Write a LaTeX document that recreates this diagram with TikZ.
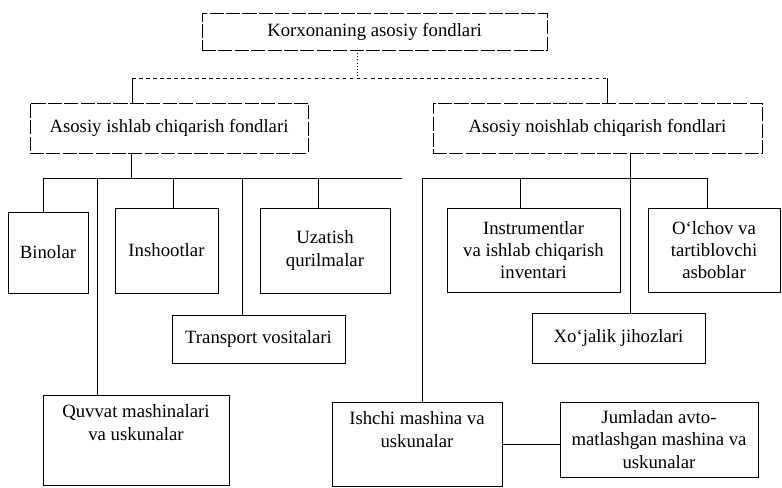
\documentclass[tikz,border=0pt]{standalone}
\usepackage{fontspec}
\setmainfont{Liberation Serif}
\usetikzlibrary{positioning}

\tikzset{
	box/.style={draw, rectangle, line width=0.6pt, align=center, inner sep=2pt, font=\fontsize{16}{19}\selectfont},
	mainbox/.style={box, dash pattern=on 12pt off 2pt},
	boxtext/.style={align=center, inner sep=0pt, font=\fontsize{16}{19}\selectfont},
	link/.style={line width=0.6pt},
}

\begin{document}
\begin{tikzpicture}[x=0.03cm, y=-0.03cm]
	\useasboundingbox (0,0) rectangle (782,488);
	
	% Korxona
	\node (korxona) [mainbox, minimum width=10.35cm, minimum height=1.11cm] at (374.5,31.5) {Korxonaning asosiy fondlari};
	
	% Asosiy fondlar
	\node (ishlab) [mainbox, minimum width=8.34cm, minimum height=1.5cm] at (169,128) {Asosiy ishlab chiqarish fondlari};
	\node (noishlab) [mainbox, minimum width=9.87cm, minimum height=1.5cm] at (597.5,128) {Asosiy noishlab chiqarish fondlari};
	
	\coordinate (t0) at (357,78);
	\coordinate (tl) at (132,78);
	\coordinate (tr) at (607,78);
	\draw[link, dotted] (korxona.south -| t0) -- (t0);
	\draw[link, dashed] (tl) -- (tr);
	\draw[link] (tl) -- (ishlab.north -| tl);
	\draw[link] (tr) -- (noishlab.north -| tr);
	
	% Ishlab chiqarish fondlari
	\node (binolar) [box, minimum width=2.4cm, minimum height=2.43cm] at (48,252.5) {Binolar};
	\node (inshoot) [box, minimum width=3.09cm, minimum height=2.55cm] at (166.5,250.5) {Inshootlar};
	\node (uzatish) [box, minimum width=3.9cm, minimum height=2.55cm] at (325,250.5) {Uzatish\\qurilmalar};
	\node (transport) [box, minimum width=5.19cm, minimum height=1.44cm] at (258.5,339) {Transport vositalari};
	\node (quvvat) [box, minimum width=5.58cm, minimum height=2.7cm] at (136,440) {};
	\node [boxtext, below=0.3cm of quvvat.north] {Quvvat mashinalari\\va uskunalar};
	
	\coordinate (l0) at (131,178);
	\coordinate (l1) at (43,178);
	\coordinate (l2) at (402,178);
	\draw[link] (ishlab.south -| l0) -- (l0);
	\draw[link] (l1) -- (l2);
	\draw[link] (l1) -- (binolar.north -| l1);
	\draw[link] (97,178) -- (quvvat.north -| 97,0);
	\draw[link] (173,178) -- (inshoot.north -| 173,0);
	\draw[link] (242,178) -- (transport.north -| 242,0);
	\draw[link] (318,178) -- (uzatish.north -| 318,0);
	
	% Noishlab chiqarish fondlari
	\node (instrument) [box, minimum width=5.19cm, minimum height=2.52cm] at (533.5,250) {Instrumentlar\\va ishlab chiqarish\\inventari};
	\node (olchov) [box, minimum width=3.96cm, minimum height=2.52cm] at (714,250) {O`lchov va\\tartiblovchi\\asboblar};
	\node (xojalik) [box, minimum width=5.19cm, minimum height=1.5cm] at (618.5,338) {Xo`jalik jihozlari};
	\node (ishchi) [box, minimum width=5.1cm, minimum height=2.52cm] at (417,444) {};
	\node [boxtext, below=0.3cm of ishchi.north] {Ishchi mashina va\\uskunalar};
	\node (jumladan) [box, minimum width=5.94cm, minimum height=2.25cm] at (659,439.5) {Jumladan avto-\\matlashgan mashina va\\uskunalar};
	
	\coordinate (r0) at (630,178);
	\coordinate (r1) at (422,178);
	\coordinate (r2) at (707,178);
	\draw[link] (noishlab.south -| r0) -- (xojalik.north -| r0);
	\draw[link] (r1) -- (r2);
	\draw[link] (r1) -- (ishchi.north -| r1);
	\draw[link] (520,178) -- (instrument.north -| 520,0);
	\draw[link] (r2) -- (olchov.north -| r2);
	\draw[link] (ishchi.east) -- (jumladan.west |- ishchi.east);
	
\end{tikzpicture}
\end{document}
